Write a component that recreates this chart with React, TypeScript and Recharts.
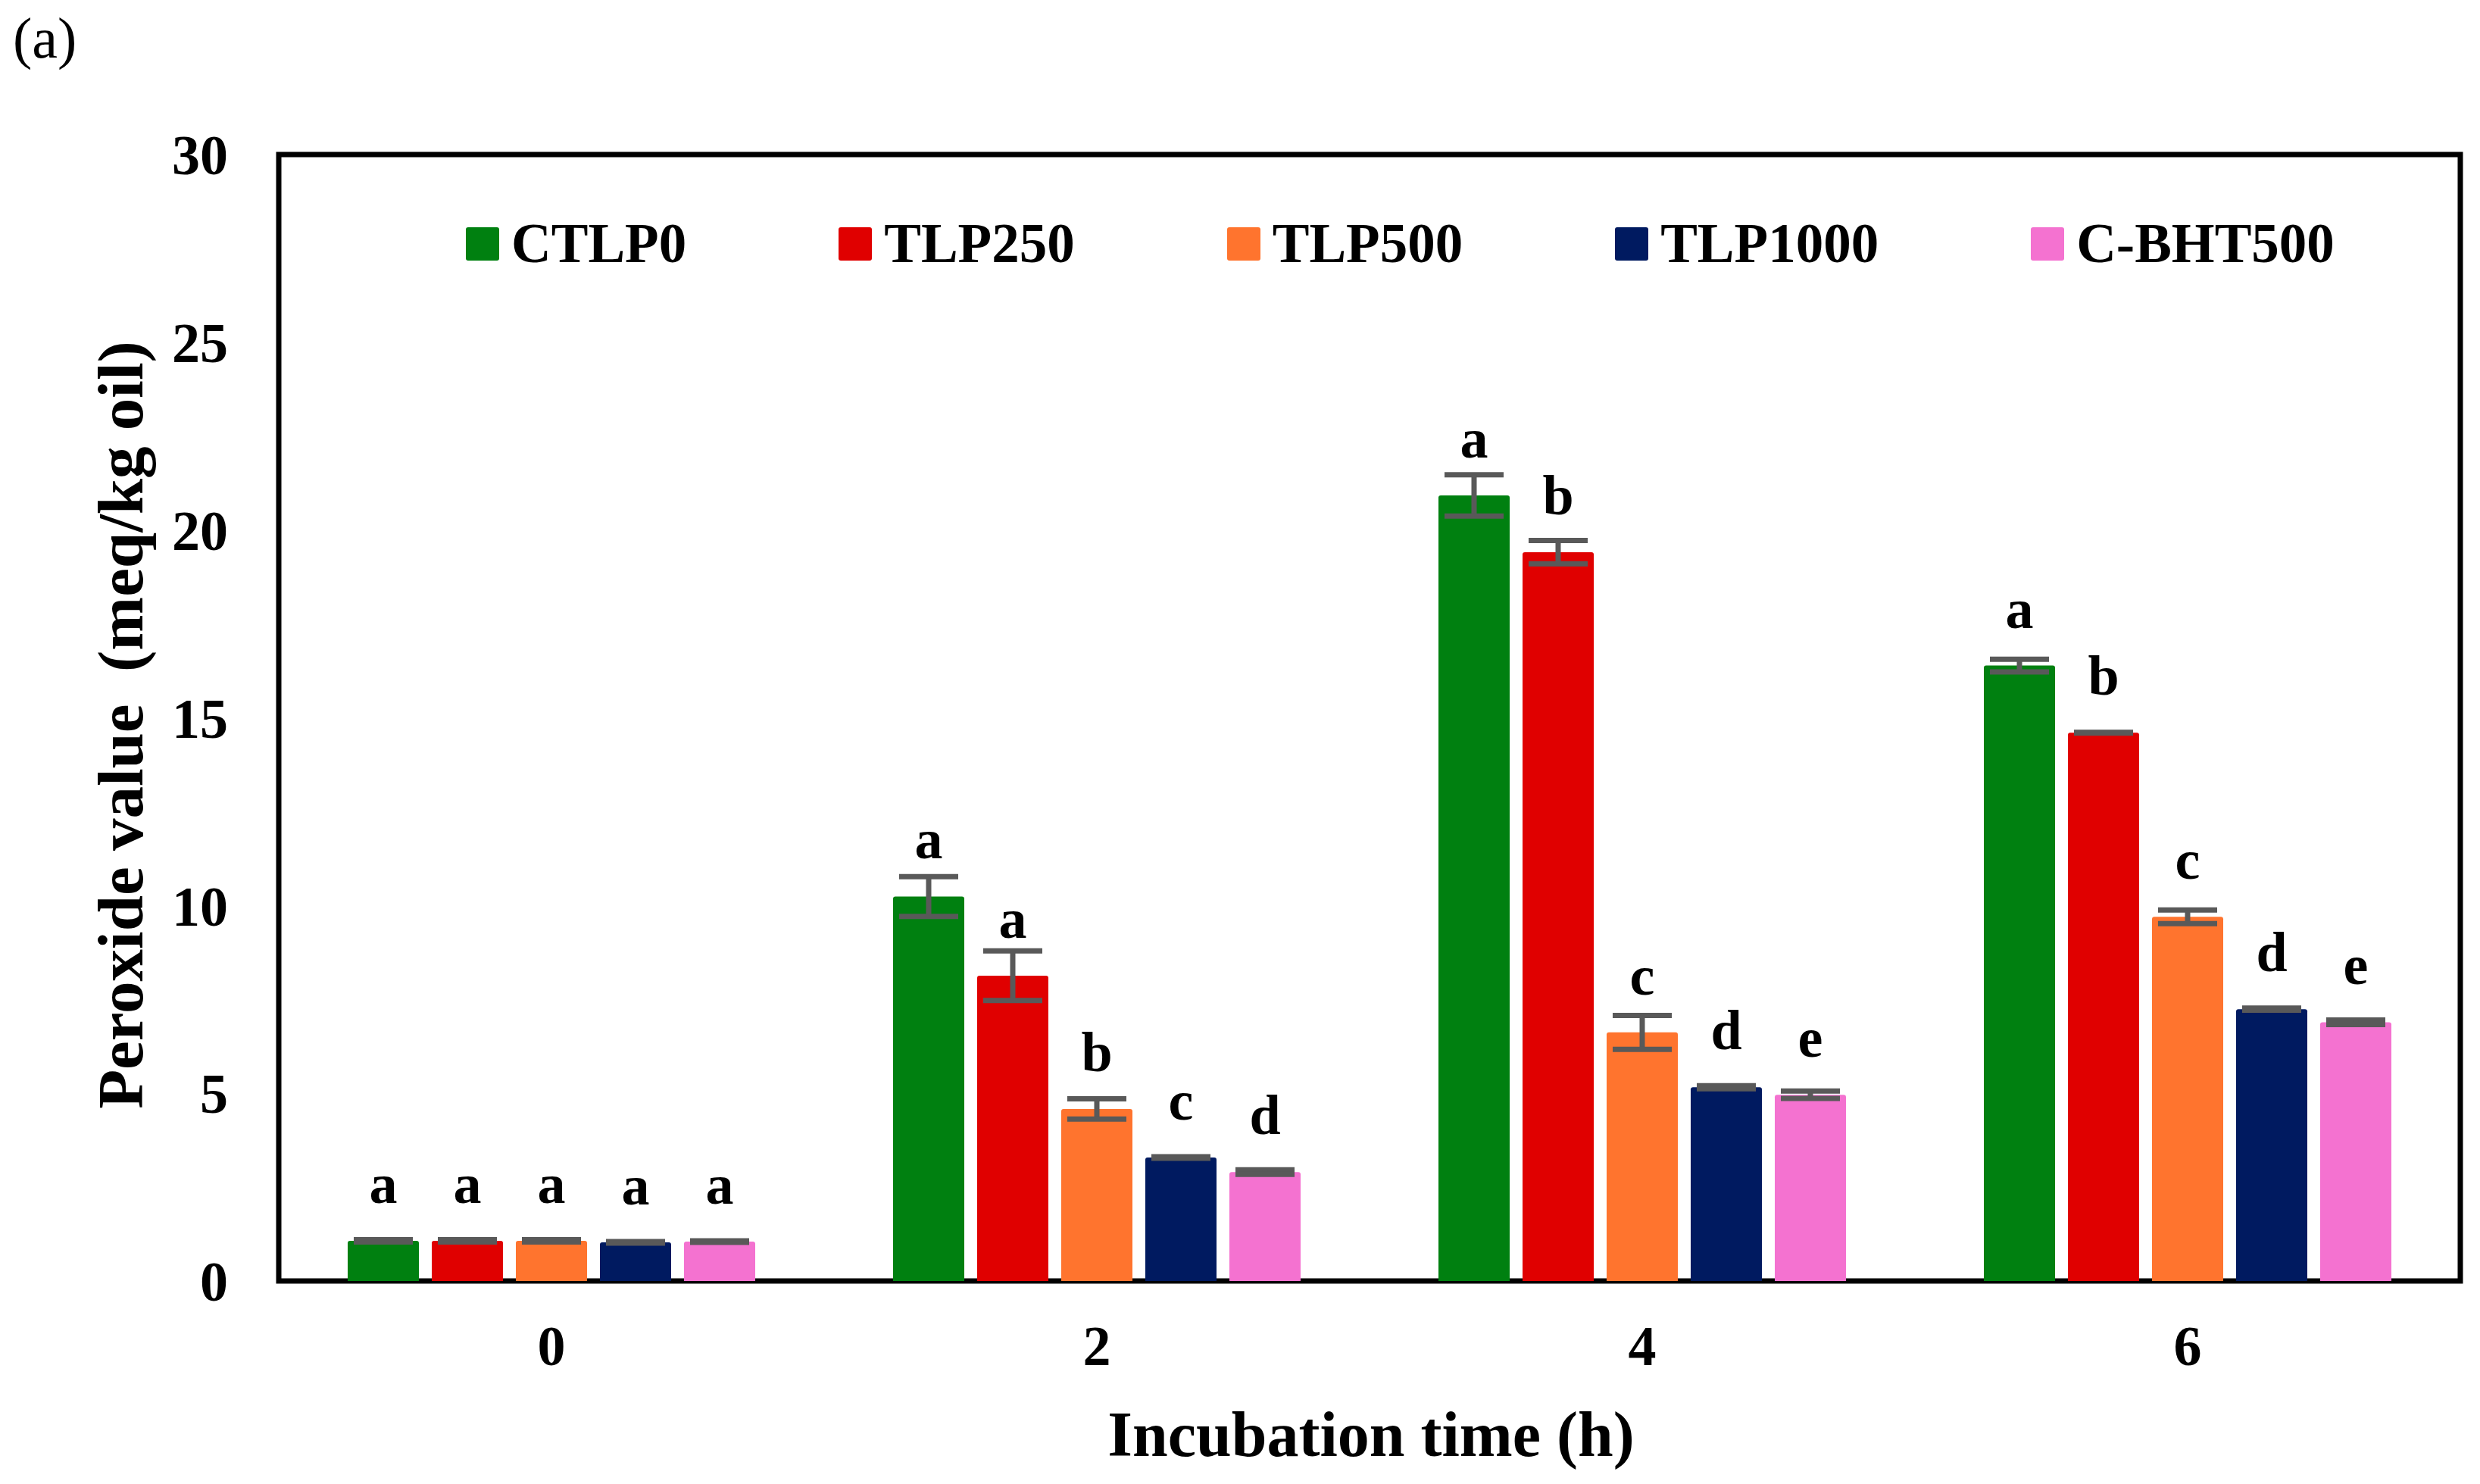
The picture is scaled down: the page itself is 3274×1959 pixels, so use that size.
import React from 'react';
import { BarChart, Bar, XAxis, YAxis, ErrorBar, LabelList, Legend, ReferenceArea } from 'recharts';

const times = ['0', '2', '4', '6'];

const ctlp0 = [1.07, 10.24, 20.92, 16.39];
const ctlp0Err = [0.03, 0.53, 0.55, 0.17];
const ctlp0Sig = ['a', 'a', 'a', 'a'];

const tlp250 = [1.07, 8.13, 19.41, 14.6];
const tlp250Err = [0.03, 0.66, 0.31, 0.01];
const tlp250Sig = ['a', 'a', 'b', 'b'];

const tlp500 = [1.07, 4.58, 6.62, 9.7];
const tlp500Err = [0.03, 0.27, 0.45, 0.18];
const tlp500Sig = ['a', 'b', 'c', 'c'];

const tlp1000 = [1.03, 3.29, 5.16, 7.24];
const tlp1000Err = [0.02, 0.02, 0.04, 0.03];
const tlp1000Sig = ['a', 'c', 'd', 'd'];

const bht500 = [1.05, 2.9, 4.96, 6.89];
const bht500Err = [0.02, 0.06, 0.1, 0.06];
const bht500Sig = ['a', 'd', 'e', 'e'];

const yTicks = [0, 5, 10, 15, 20, 25, 30];

const series = [
  { key: 'ctlp0', name: 'CTLP0', color: '#008010', values: ctlp0, err: ctlp0Err, sig: ctlp0Sig },
  { key: 'tlp250', name: 'TLP250', color: '#E00000', values: tlp250, err: tlp250Err, sig: tlp250Sig },
  { key: 'tlp500', name: 'TLP500', color: '#FF742E', values: tlp500, err: tlp500Err, sig: tlp500Sig },
  { key: 'tlp1000', name: 'TLP1000', color: '#001A60', values: tlp1000, err: tlp1000Err, sig: tlp1000Sig },
  { key: 'bht500', name: 'C-BHT500', color: '#F472D0', values: bht500, err: bht500Err, sig: bht500Sig },
];

const data = times.map((t, i) => {
  const row: any = { time: t };
  series.forEach((s) => {
    row[s.key] = s.values[i];
    row[s.key + 'Err'] = s.err[i];
    row[s.key + 'Sig'] = s.sig[i];
  });
  return row;
});

const FONT = "'Liberation Serif', 'Times New Roman', serif";

const SigLabel = (props: any) => {
  const { x, y, width, value } = props;
  return (
    <text
      x={x + width / 2}
      y={y - 50}
      textAnchor="middle"
      fontFamily={FONT}
      fontWeight="bold"
      fontSize={74}
      fill="#000"
    >
      {value}
    </text>
  );
};

const LegendContent = () => (
  <div style={{ display: 'flex', alignItems: 'center', fontFamily: FONT, fontWeight: 'bold', fontSize: 73, lineHeight: 1, whiteSpace: 'nowrap' }}>
    {series.map((s, i) => (
      <div key={s.key} style={{ display: 'flex', alignItems: 'center', marginRight: i < series.length - 1 ? 201 : 0 }}>
        <div style={{ width: 44, height: 44, background: s.color, borderRadius: 3, marginRight: 16 }} />
        <span>{s.name}</span>
      </div>
    ))}
  </div>
);

const App: React.FC = () => {
  return (
    <div style={{ position: 'absolute', left: 0, top: 0, width: 3274, height: 1959, background: '#fff' }}>
      <BarChart
        width={3274}
        height={1959}
        data={data}
        margin={{ top: 204, right: 26, bottom: 168, left: 0 }}
        barGap={17}
        barCategoryGap={91}
      >
        <XAxis
          dataKey="time"
          height={100}
          axisLine={false}
          tickLine={false}
          tickSize={0}
          tickMargin={58}
          tick={{ fontFamily: FONT, fontWeight: 'bold', fontSize: 74, fill: '#000' }}
        />
        <YAxis
          width={368}
          domain={[0, 30]}
          ticks={yTicks}
          interval={0}
          axisLine={false}
          tickLine={false}
          tickSize={0}
          tickMargin={67}
          tick={{ fontFamily: FONT, fontWeight: 'bold', fontSize: 74, fill: '#000' }}
        />
        <Legend
          layout="horizontal"
          verticalAlign="middle"
          align="center"
          content={<LegendContent />}
          wrapperStyle={{ left: 615, top: 285, width: 'auto', height: 'auto' }}
        />
        {series.map((s) => (
          <Bar key={s.key} dataKey={s.key} name={s.name} fill={s.color} radius={[3, 3, 0, 0]} isAnimationActive={false}>
            <ErrorBar dataKey={s.key + 'Err'} width={39} strokeWidth={7} stroke="#595959" isAnimationActive={false} />
            <LabelList dataKey={s.key + 'Sig'} content={<SigLabel />} />
          </Bar>
        ))}
        <ReferenceArea y1={0} y2={30} fill="none" stroke="#000" strokeWidth={7} ifOverflow="visible" />
        <text
          x={1810}
          y={1922}
          textAnchor="middle"
          fontFamily={FONT}
          fontWeight="bold"
          fontSize={84}
          fill="#000"
        >
          Incubation time (h)
        </text>
        <text
          transform="translate(188, 957) rotate(-90)"
          x={0}
          y={0}
          textAnchor="middle"
          fontFamily={FONT}
          fontWeight="bold"
          fontSize={85}
          fill="#000"
          style={{ whiteSpace: 'pre' }}
        >
          {'Peroxide value  (meq/kg oil)'}
        </text>
        <text x={17} y={76} fontFamily={FONT} fontSize={76} fill="#000">
          (a)
        </text>
      </BarChart>
    </div>
  );
};

export default App;
